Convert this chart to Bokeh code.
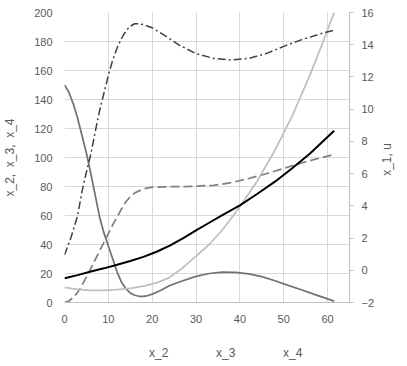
import math
from bokeh.plotting import figure
from bokeh.layouts import column
from bokeh.models import Range1d, LinearAxis, SingleIntervalTicker, Legend, LegendItem
from bokeh.embed import file_html
from bokeh.resources import INLINE

t_2 = [0, 1, 2, 3, 4, 5, 6, 7, 8, 9, 10, 11, 12, 13, 14, 15, 16, 17, 18, 19, 20, 22, 24, 27, 30, 33, 36, 39, 42, 45, 48, 51, 54, 57, 60, 61.5]
x_2 = [150, 145, 137, 127, 115, 103, 89, 74, 59, 48, 39, 30, 21, 14, 9.5, 6.5, 5, 4.3, 4.3, 4.8, 5.8, 8.5, 11.7, 15, 18, 20, 21, 20.8, 19.8, 17.8, 15, 11.8, 8.8, 5.6, 2.5, 1]

t_3 = [0, 1, 2, 3, 4, 5, 6, 7, 8, 9, 10, 11, 12, 13, 14, 15, 16, 17, 18, 20, 23, 26, 30, 34, 38, 42, 46, 50, 54, 58, 61.5]
x_3 = [0, 1, 3.5, 7, 12, 17.5, 23.5, 29.5, 35.5, 41.5, 47.5, 53.5, 59, 64.5, 69.5, 73, 75.5, 77, 78.3, 79.5, 79.8, 79.9, 80.2, 80.8, 82.6, 85.5, 88.8, 92.5, 96.2, 99.5, 102]

t_4 = [0, 3, 6, 9, 12, 15, 18, 21, 24, 27, 30, 33, 36, 40, 44, 48, 52, 56, 59, 61.5]
x_4 = [10.5, 9, 8.4, 8.3, 8.8, 9.8, 11.3, 13.5, 17.3, 24, 32, 40, 50, 66, 84, 105, 129, 157, 180, 200]

t_1 = [0, 1.5, 3, 4, 5, 6, 7, 8, 9, 10, 11, 12, 13, 14, 15, 16, 17, 18, 20, 23, 26, 30, 34, 38, 42, 46, 50, 54, 58, 61.5]
x_1 = [0.95, 2.05, 3.4, 4.9, 6.1, 7.2, 8.6, 9.9, 11.0, 12.1, 13.05, 13.8, 14.4, 14.85, 15.15, 15.3, 15.3, 15.25, 15.05, 14.55, 14.0, 13.45, 13.15, 13.05, 13.15, 13.45, 13.9, 14.3, 14.65, 14.9]

t_u = [0, 3, 6, 9, 12, 15, 18, 21, 24, 27, 30, 33, 36, 40, 44, 48, 52, 56, 61.5]
u = [-0.5, -0.3, -0.08, 0.12, 0.34, 0.58, 0.83, 1.15, 1.53, 1.98, 2.48, 2.95, 3.42, 4.03, 4.75, 5.5, 6.35, 7.25, 8.66]

x_ticks_step = 10
left_ticks_step = 20
right_ticks_step = 2

FONT = "Liberation Sans"
TXT = "#595959"

styles = {
    "x_2": dict(line_color="#767171", line_width=1.75),
    "x_3": dict(line_color="#808080", line_width=1.75, line_dash="9 4"),
    "x_4": dict(line_color="#bfbfbf", line_width=1.75),
    "x_1": dict(line_color="#404040", line_width=1.5, line_dash="8 3 2 3"),
    "u": dict(line_color="black", line_width=2),
}

p = figure(frame_width=285, frame_height=290, output_backend="svg", toolbar_location=None,
           x_range=Range1d(0, 65), y_range=Range1d(0, 200),
           min_border_left=64, min_border_right=50, min_border_top=12, min_border_bottom=28,
           background_fill_color="white", border_fill_color="white")
p.outline_line_color = None
p.extra_y_ranges = {"right": Range1d(-2, 16)}

p.xaxis.ticker = SingleIntervalTicker(interval=x_ticks_step)
p.yaxis.ticker = SingleIntervalTicker(interval=left_ticks_step)
p.xgrid.ticker = SingleIntervalTicker(interval=x_ticks_step)
p.ygrid.ticker = SingleIntervalTicker(interval=left_ticks_step)
p.grid.grid_line_color = "#d9d9d9"
p.grid.grid_line_width = 1

for ax in (p.xaxis[0], p.yaxis[0]):
    ax.major_label_text_font = FONT
    ax.major_label_text_font_size = "11px"
    ax.major_label_text_color = TXT
    ax.minor_tick_line_color = None
    ax.major_tick_line_color = None
p.xaxis.axis_line_color = "#bfbfbf"
p.xaxis.major_label_standoff = 6
p.xaxis.axis_label = None
p.yaxis.axis_line_color = None
p.yaxis.major_label_standoff = 6
p.yaxis.axis_label = "x_2,\u00a0\u00a0x_3,\u00a0\u00a0x_4"
p.yaxis.axis_label_text_font = FONT
p.yaxis.axis_label_text_font_size = "12px"
p.yaxis.axis_label_text_font_style = "normal"
p.yaxis.axis_label_text_color = TXT
p.yaxis.axis_label_standoff = 14

ry = LinearAxis(y_range_name="right", ticker=SingleIntervalTicker(interval=right_ticks_step),
                axis_label="\u00a0" * 38 + "x_1,\u00a0u")
ry.major_label_text_font = FONT
ry.major_label_text_font_size = "11px"
ry.major_label_text_color = TXT
ry.major_label_standoff = 8
ry.axis_label_text_font = FONT
ry.axis_label_text_font_size = "12px"
ry.axis_label_text_font_style = "normal"
ry.axis_label_text_color = TXT
ry.axis_label_standoff = 10
ry.axis_label_orientation = math.pi / 2
ry.axis_label_align = "start"
ry.axis_line_color = "#bfbfbf"
ry.major_tick_line_color = "#bfbfbf"
ry.major_tick_out = 4
ry.major_tick_in = 0
ry.minor_tick_line_color = None
p.add_layout(ry, "right")

p.line(t_2, x_2, **styles["x_2"])
p.line(t_3, x_3, **styles["x_3"])
p.line(t_4, x_4, **styles["x_4"])
p.line(t_1, x_1, y_range_name="right", **styles["x_1"])
p.line(t_u, u, y_range_name="right", **styles["u"])

# legend strip below the chart
p2 = figure(width=399, height=30, output_backend="svg", toolbar_location=None, title=None,
            x_axis_type=None, y_axis_type=None, x_range=Range1d(0, 1), y_range=Range1d(0, 1),
            min_border=0, background_fill_color="white", border_fill_color="white")
p2.outline_line_color = None
items = []
for name in ["x_2", "x_3", "x_4", "x_1", "u"]:
    r = p2.line(x=[], y=[], **styles[name])
    items.append(LegendItem(label=name, renderers=[r]))
legend = Legend(items=items, orientation="horizontal", location=(52, 0),
                label_text_font=FONT, label_text_font_size="12px", label_text_color=TXT,
                glyph_width=30, glyph_height=14, label_height=14, label_width=22,
                label_standoff=3, spacing=12, padding=8, margin=0,
                border_line_color=None, background_fill_alpha=0)
p2.add_layout(legend, "center")

open("out.html", "w").write(file_html(column(p, p2, spacing=0), INLINE))
